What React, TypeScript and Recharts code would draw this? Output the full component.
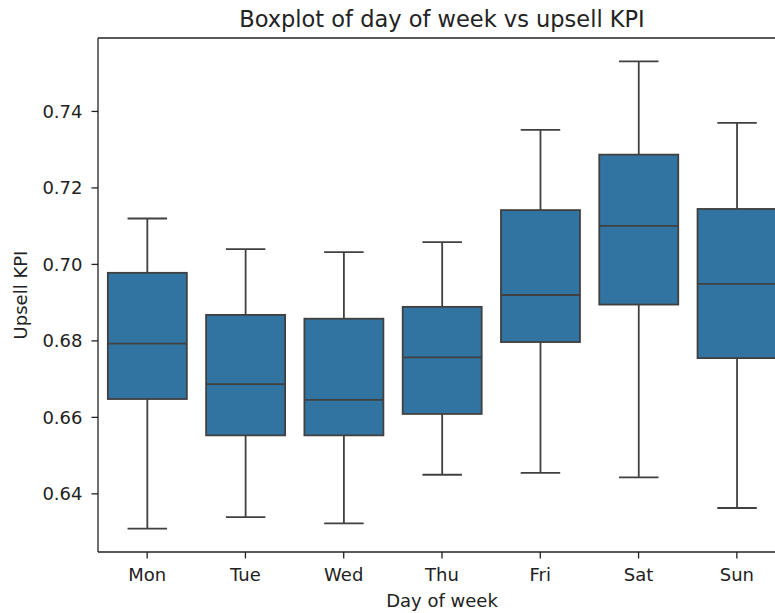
import React from 'react';
import { ComposedChart, Bar, XAxis, YAxis, ReferenceLine } from 'recharts';

const days = ['Mon', 'Tue', 'Wed', 'Thu', 'Fri', 'Sat', 'Sun'];
const lowWhisker = [0.6309, 0.6339, 0.6323, 0.645, 0.6455, 0.6443, 0.6363];
const q1 = [0.6648, 0.6553, 0.6553, 0.6609, 0.6797, 0.6895, 0.6755];
const median = [0.6793, 0.6687, 0.6646, 0.6757, 0.692, 0.7101, 0.6949];
const q3 = [0.6978, 0.6868, 0.6858, 0.6889, 0.7142, 0.7287, 0.7145];
const highWhisker = [0.712, 0.704, 0.7032, 0.7058, 0.7352, 0.7531, 0.737];
const yTicks = [0.64, 0.66, 0.68, 0.7, 0.72, 0.74];

const yDomain = [0.6248, 0.7592];
const FONT = '"DejaVu Sans", sans-serif';
const BOX_FILL = '#3274a1';
const LINE = '#404040';
const AXIS = '#222';

const rows = days.map((day, i) => ({
  day,
  lo: lowWhisker[i],
  q1: q1[i],
  med: median[i],
  q3: q3[i],
  hi: highWhisker[i],
}));

// box + whiskers drawn from the [q1, q3] range bar, scaled by its own pixel height
function BoxShape(props: any) {
  const { x, y, width, height, payload } = props;
  const top = Math.min(y, y + height);
  const h = Math.abs(height);
  const ppu = h / (payload.q3 - payload.q1);
  const cx = x + width / 2;
  const medY = top + (payload.q3 - payload.med) * ppu;
  const hiY = top - (payload.hi - payload.q3) * ppu;
  const loY = top + h + (payload.q1 - payload.lo) * ppu;
  const cap = width / 4;
  return (
    <g stroke={LINE} strokeWidth={1.8}>
      <line x1={cx} x2={cx} y1={hiY} y2={top} />
      <line x1={cx} x2={cx} y1={top + h} y2={loY} />
      <line x1={cx - cap} x2={cx + cap} y1={hiY} y2={hiY} />
      <line x1={cx - cap} x2={cx + cap} y1={loY} y2={loY} />
      <rect x={x} y={top} width={width} height={h} fill={BOX_FILL} />
      <line x1={x} x2={x + width} y1={medY} y2={medY} />
    </g>
  );
}

function YLabel(props: any) {
  const vb = props.viewBox || {};
  const cy = (vb.y ?? 38) + (vb.height ?? 514) / 2;
  return (
    <text
      x={20}
      y={cy}
      transform={`rotate(-90, 20, ${cy})`}
      textAnchor="middle"
      dominantBaseline="central"
      fontSize={18}
      fill={AXIS}
      fontFamily={FONT}
    >
      Upsell KPI
    </text>
  );
}

export default function App() {
  return (
    <div
      style={{
        position: 'fixed',
        left: 0,
        top: 0,
        width: 775,
        height: 613,
        overflow: 'hidden',
        background: '#fff',
        fontFamily: FONT,
      }}
    >
      <svg width={775} height={40} style={{ position: 'absolute', left: 0, top: 0 }}>
        <text x={442} y={26.5} textAnchor="middle" fontSize={22.5} fill={AXIS} fontFamily={FONT}>
          Boxplot of day of week vs upsell KPI
        </text>
      </svg>
      <ComposedChart
        width={800}
        height={613}
        data={rows}
        margin={{ top: 38, right: 14, bottom: 0, left: 0 }}
        barCategoryGap="10%"
      >
        <XAxis
          dataKey="day"
          height={61}
          tickSize={6.5}
          tickMargin={10}
          tick={{ fontSize: 18, fill: AXIS, fontFamily: FONT }}
          tickLine={{ stroke: AXIS, strokeWidth: 1.3 }}
          axisLine={{ stroke: AXIS, strokeWidth: 1.3 }}
          label={{
            value: 'Day of week',
            position: 'insideBottom',
            offset: 6,
            fontSize: 18,
            fill: AXIS,
            fontFamily: FONT,
          }}
        />
        <YAxis
          type="number"
          width={98}
          domain={yDomain}
          ticks={yTicks}
          allowDataOverflow
          tickSize={6.5}
          tickMargin={9}
          tickFormatter={(v: number) => v.toFixed(2)}
          tick={{ fontSize: 18, fill: AXIS, fontFamily: FONT }}
          tickLine={{ stroke: AXIS, strokeWidth: 1.3 }}
          axisLine={{ stroke: AXIS, strokeWidth: 1.3 }}
          label={<YLabel />}
        />
        <YAxis
          yAxisId="right"
          orientation="right"
          type="number"
          width={0}
          domain={yDomain}
          allowDataOverflow
          tick={false}
          tickLine={false}
          axisLine={{ stroke: AXIS, strokeWidth: 1.3 }}
        />
        {/* top spine */}
        <ReferenceLine y={yDomain[1]} stroke={AXIS} strokeWidth={1.3} ifOverflow="visible" />
        <Bar
          dataKey={(d: any) => [d.q1, d.q3]}
          shape={<BoxShape />}
          isAnimationActive={false}
        />
      </ComposedChart>
    </div>
  );
}
